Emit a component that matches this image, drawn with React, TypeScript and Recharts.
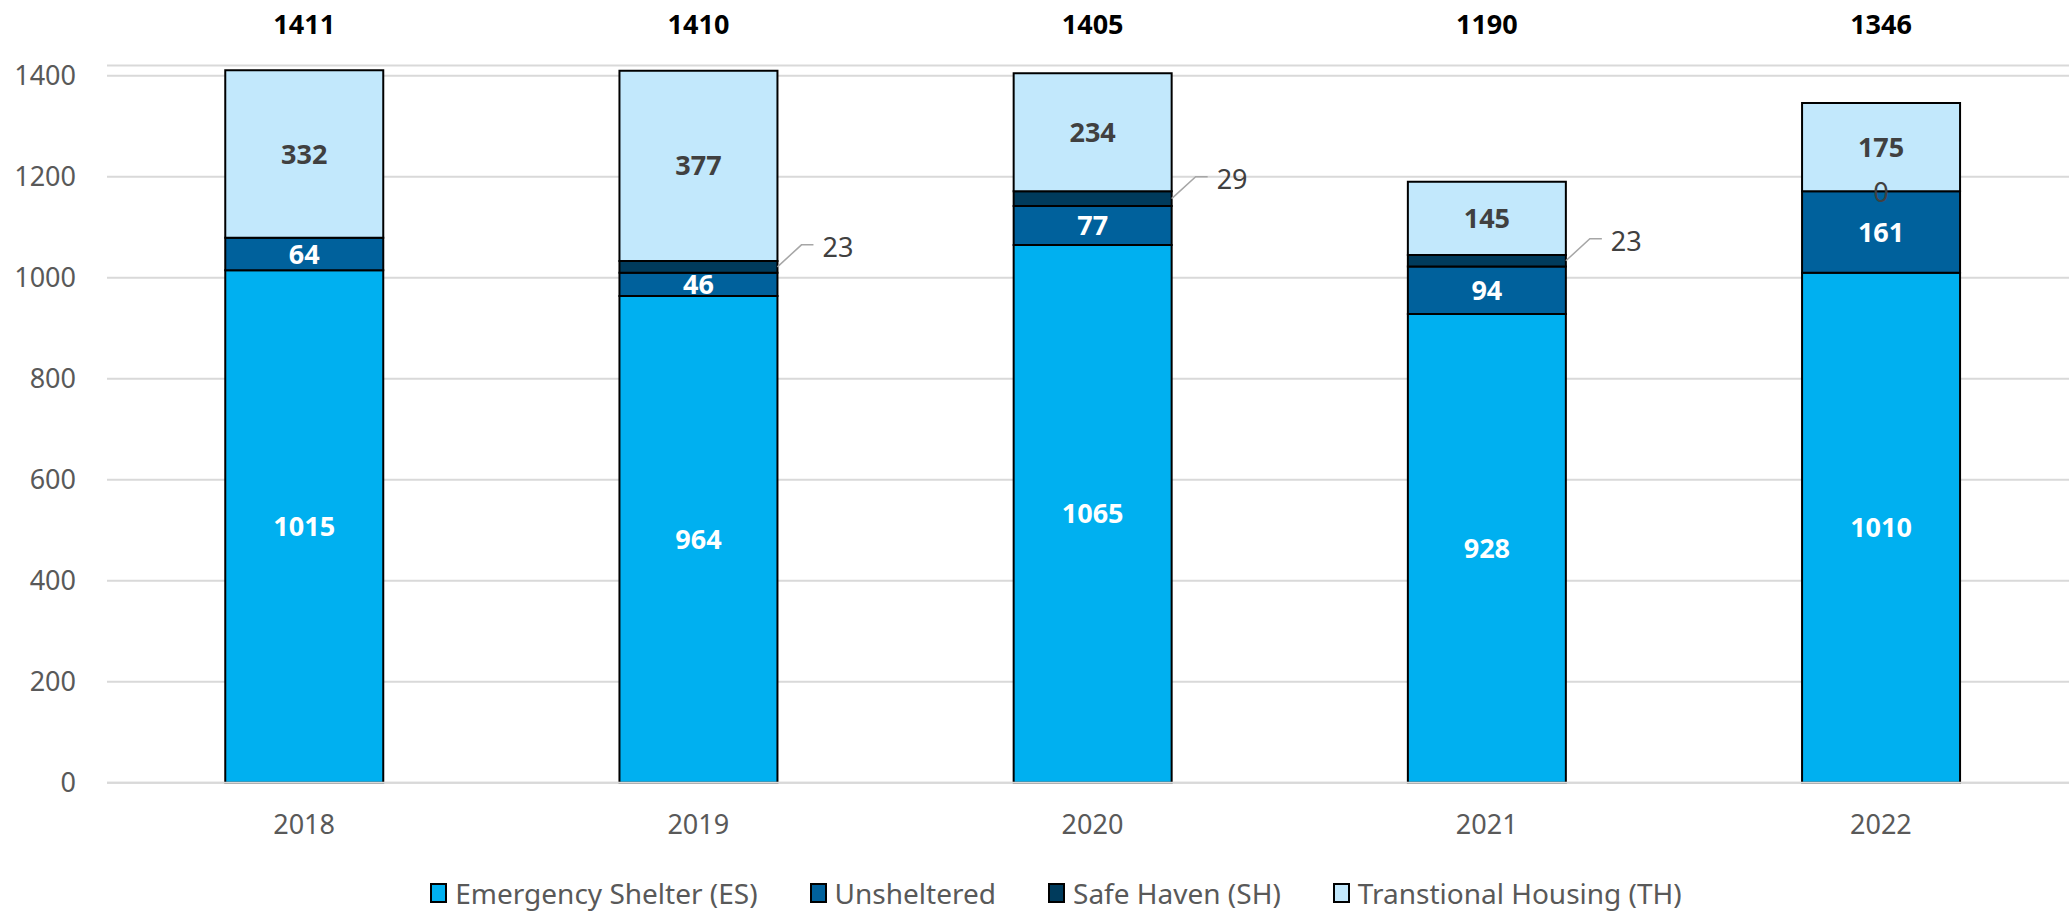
import { BarChart, Bar, XAxis, YAxis, CartesianGrid, LabelList } from "recharts";

const years = ["2018", "2019", "2020", "2021", "2022"];
const emergencyShelter = [1015, 964, 1065, 928, 1010];
const unsheltered = [64, 46, 77, 94, 161];
// 2018 has no Safe Haven entry (no label in the source)
const safeHaven: (number | null)[] = [null, 23, 29, 23, 0];
const transitional = [332, 377, 234, 145, 175];
const yTicks = [0, 200, 400, 600, 800, 1000, 1200, 1400];

const COLORS = {
  es: "#00b0f0",
  un: "#00619c",
  sh: "#003b5c",
  th: "#c2e8fc",
};

const FONT = "'Noto Sans', 'Open Sans', sans-serif";

const data = years.map((year, i) => ({
  year,
  es: emergencyShelter[i],
  un: unsheltered[i],
  sh: safeHaven[i],
  th: transitional[i],
  total:
    emergencyShelter[i] + unsheltered[i] + (safeHaven[i] ?? 0) + transitional[i],
}));

const legendItems = [
  { label: "Emergency Shelter (ES)", color: COLORS.es },
  { label: "Unsheltered", color: COLORS.un },
  { label: "Safe Haven (SH)", color: COLORS.sh },
  { label: "Transtional Housing (TH)", color: COLORS.th },
];

function box(props: any) {
  const vb = props.viewBox ?? props;
  return {
    x: Number(props.x ?? vb.x),
    y: Number(props.y ?? vb.y),
    width: Number(props.width ?? vb.width),
    height: Number(props.height ?? vb.height),
  };
}

// totals above bars + the "0" Safe Haven label sitting on the TH bottom edge
function TopLabels(props: any) {
  const row = data[props.index];
  if (!row) return null;
  const { x, y, width, height } = box(props);
  return (
    <g>
      <text
        x={x + width / 2}
        y={23}
        textAnchor="middle"
        dominantBaseline="central"
        fill="#000"
        fontFamily={FONT}
        fontSize={27}
        fontWeight={700}
      >
        {row.total}
      </text>
      {row.sh === 0 && (
        <text
          x={x + width / 2}
          y={y + height}
          textAnchor="middle"
          dominantBaseline="central"
          fill="#404040"
          fontFamily={FONT}
          fontSize={27}
        >
          {row.sh}
        </text>
      )}
    </g>
  );
}

function SafeHavenCallout(props: any) {
  let v = props.value;
  if (Array.isArray(v)) v = v[1] - v[0];
  if (v == null || !(Number(v) > 0)) return null;
  const { x, y, width, height } = box(props);
  const midY = y + height / 2;
  const x0 = x + width;
  const ex = x0 + 24;
  const ey = midY - 22;
  return (
    <g>
      <polyline
        points={`${x0},${midY} ${ex},${ey} ${ex + 12},${ey}`}
        fill="none"
        stroke="#a6a6a6"
        strokeWidth={1.5}
      />
      <text
        x={ex + 21}
        y={ey + 2}
        textAnchor="start"
        dominantBaseline="central"
        fill="#404040"
        fontFamily={FONT}
        fontSize={27}
      >
        {v}
      </text>
    </g>
  );
}

const insideLabel = (fill: string) => ({
  position: "center" as const,
  fill,
  fontFamily: FONT,
  fontSize: 27,
  fontWeight: 700,
});

export default function App() {
  return (
    <div
      style={{
        position: "absolute",
        left: 0,
        top: 0,
        width: 2069,
        height: 911,
        overflow: "hidden",
        background: "#fff",
        fontFamily: FONT,
      }}
    >
      <BarChart
        width={2078}
        height={911}
        data={data}
        margin={{ top: 65.6, right: 0, left: 0, bottom: 78.3 }}
        barCategoryGap="30%"
      >
        <CartesianGrid
          horizontal
          vertical={false}
          stroke="#d9d9d9"
          strokeWidth={2}
        />
        <XAxis
          dataKey="year"
          height={50}
          axisLine={{ stroke: "#d9d9d9", strokeWidth: 2 }}
          tickLine={false}
          tickSize={0}
          tickMargin={32}
          tick={{ fill: "#595959", fontSize: 27, fontFamily: FONT }}
        />
        <YAxis
          width={107}
          domain={[0, 1420]}
          ticks={yTicks}
          axisLine={false}
          tickLine={false}
          tickSize={0}
          tickMargin={31}
          tick={{ fill: "#595959", fontSize: 27, fontFamily: FONT }}
        />
        <Bar
          dataKey="es"
          stackId="a"
          fill={COLORS.es}
          stroke="#000"
          strokeWidth={2}
          isAnimationActive={false}
        >
          <LabelList dataKey="es" {...insideLabel("#ffffff")} />
        </Bar>
        <Bar
          dataKey="un"
          stackId="a"
          fill={COLORS.un}
          stroke="#000"
          strokeWidth={2}
          isAnimationActive={false}
        >
          <LabelList dataKey="un" {...insideLabel("#ffffff")} />
        </Bar>
        <Bar
          dataKey="sh"
          stackId="a"
          fill={COLORS.sh}
          stroke="#000"
          strokeWidth={2}
          isAnimationActive={false}
        >
          <LabelList dataKey="sh" content={SafeHavenCallout} />
        </Bar>
        <Bar
          dataKey="th"
          stackId="a"
          fill={COLORS.th}
          stroke="#000"
          strokeWidth={2}
          isAnimationActive={false}
        >
          <LabelList dataKey="th" {...insideLabel("#404040")} />
          <LabelList dataKey="total" content={TopLabels} />
        </Bar>
      </BarChart>
      <div
        style={{
          position: "absolute",
          left: 0,
          top: 874,
          width: 2112,
          display: "flex",
          justifyContent: "center",
          alignItems: "center",
          gap: 52,
          fontSize: 28,
          color: "#595959",
          lineHeight: "38px",
        }}
      >
        {legendItems.map((item) => (
          <div
            key={item.label}
            style={{ display: "flex", alignItems: "center", gap: 8 }}
          >
            <span
              style={{
                display: "inline-block",
                width: 13,
                height: 16,
                background: item.color,
                border: "2px solid #000",
              }}
            />
            <span>{item.label}</span>
          </div>
        ))}
      </div>
    </div>
  );
}
